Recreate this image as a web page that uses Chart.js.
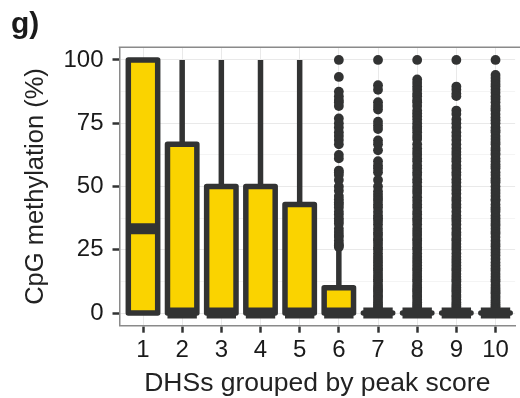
<!DOCTYPE html>
<html><head><meta charset="utf-8">
<script src="https://cdn.jsdelivr.net/npm/chart.js@4.4.1/dist/chart.umd.min.js"></script>
<style>
html,body{margin:0;padding:0;background:#fff;}
#wrap{position:relative;width:520px;height:398px;overflow:hidden;}
canvas{position:absolute;left:0;top:0;}
#panelTag{position:absolute;left:11px;top:8px;font:bold 30px "Liberation Sans",Arial,sans-serif;line-height:30px;color:#1a1a1a;}
</style></head><body>
<div id="wrap"><canvas id="c" width="520" height="398"></canvas><div id="panelTag">g)</div></div>
<script>
// ---- data ----
const categories = [1, 2, 3, 4, 5, 6, 7, 8, 9, 10];
const categoryLabels = ['1', '2', '3', '4', '5', '6', '7', '8', '9', '10'];
const q1 = [0, 0, 0, 0, 0, 0, 0, 0, 0, 0];
const medians = [33.3, 0, 0, 0, 0, 0, 0, 0, 0, 0];
const q3 = [100, 66.7, 50, 50, 42.9, 10, 0, 0, 0, 0];
const whiskerHigh = [100, 100, 100, 100, 100, 25, 0, 0, 0, 0];
const outliers6 = [100, 93.3, 87.5, 85.7, 84.2, 83.3, 81.8, 76.9, 75, 73.3, 71.4, 70, 68.4, 66.7, 62.5, 61.1, 56.3, 55.6, 54.5, 52.6, 50, 48.3, 46.2, 45, 43.8, 42.9, 41.7, 40, 38.9, 37.5, 36.4, 35.3, 33.3, 32, 30.8, 30, 28.6, 27.3, 26.7, 26.1];
const outliers7 = [100, 90, 88.2, 83.3, 81.8, 80.4, 75.6, 74.1, 72.7, 68.2, 66.7, 64.3, 60, 58.3, 57.1, 55.6, 52.6, 50, 48, 46.7, 45.5, 44.4, 42.9, 41.7, 40, 38.5, 37.5, 36.4, 35, 33.3, 31.8, 30.8, 29.4, 28.6, 27.3, 25.9, 25, 23.5, 22.2, 21.1, 20, 18.8, 17.6, 16.7, 15.4, 14.3, 13.3, 12.5, 11.1, 10, 9.1, 8.3, 7.1, 6.3, 5.3, 4.2, 3.3, 2.5, 1.6, 1];
const outliers8 = [100, 92.3, 90.9, 89.5, 88.2, 86.7, 85.7, 84.2, 83.3, 81.8, 80, 78.9, 77.8, 76.5, 75, 73.7, 72.7, 71.4, 70, 68.8, 66.7, 65, 63.6, 62.5, 61.1, 60, 58.3, 57.1, 55.6, 54.5, 52.9, 51.7, 50, 48.6, 47.4, 45.8, 44.4, 42.9, 41.7, 40, 38.9, 37.5, 36.4, 35, 33.3, 32, 30.8, 29.4, 28.6, 27.3, 25.9, 25, 23.5, 22.2, 21.1, 20, 18.8, 17.6, 16.7, 15.4, 14.3, 13.3, 12.5, 11.1, 10, 9.1, 8.3, 7.1, 6.3, 5.3, 4.2, 3.3, 2.5, 1.6, 1];
const outliers9 = [100, 89.5, 88.2, 86.7, 85.7, 80, 78.6, 76.5, 75, 73.3, 71.4, 70, 68.4, 66.7, 65, 63.6, 62.5, 61.1, 60, 58.3, 57.1, 55.6, 54.5, 52.9, 51.6, 50, 48.6, 47.1, 45.5, 44.4, 42.9, 41.7, 40, 38.5, 37.5, 36.4, 35, 33.3, 31.8, 30.8, 29.4, 28.6, 27.3, 26.1, 25, 23.5, 22.2, 21.1, 20, 18.8, 17.6, 16.7, 15.4, 14.3, 13.3, 12.5, 11.1, 10, 9.1, 8.3, 7.1, 6.3, 5.3, 4.2, 3.3, 2.5, 1.6, 1];
const outliers10 = [100, 94.1, 92.9, 91.7, 90.5, 89.5, 88.2, 87, 85.7, 84.6, 83.3, 81.8, 80.8, 80, 78.6, 77.3, 76.2, 75, 73.3, 72.2, 71.4, 70, 68.8, 67.6, 66.7, 65.2, 64.3, 63.2, 62.5, 61.1, 60, 58.8, 57.9, 57.1, 55.6, 54.5, 53.3, 52.4, 51.6, 50, 48.6, 47.4, 46.2, 45, 44.4, 42.9, 41.7, 40.9, 40, 38.5, 37.5, 36.4, 35.3, 34.5, 33.3, 32.1, 31.3, 30, 28.6, 27.3, 26.3, 25, 23.8, 22.7, 21.4, 20, 18.8, 17.6, 16.7, 15.4, 14.3, 13.3, 12.5, 11.1, 10, 9.1, 8.3, 7.7, 6.7, 5.9, 5, 4.2, 3.4, 2.7, 2, 1.4, 1];
const outlierGroups = [[], [], [], [], [], outliers6, outliers7, outliers8, outliers9, outliers10];
const yTickValues = [0, 25, 50, 75, 100];
const yMinorTickValues = [12.5, 37.5, 62.5, 87.5];
const xTitle = 'DHSs grouped by peak score';
const yTitle = 'CpG methylation (%)';

// ---- styling ----
const FILL = '#FAD300';
const DARK = '#323333';
const HALF = 0.375; // half box width in category units (ggplot width 0.75)
const FONT = '"Liberation Sans", Arial, Helvetica, sans-serif';

// ---- build library datasets from the arrays ----
const boxData = categories.map((c, i) => ({x: c, y: [q1[i], q3[i]]}));
const outlineData = [];
const medianData = [];
const whiskerData = [];
categories.forEach((c, i) => {
  outlineData.push({x: c - HALF, y: q1[i]}, {x: c + HALF, y: q1[i]}, {x: c + HALF, y: q3[i]},
                   {x: c - HALF, y: q3[i]}, {x: c - HALF, y: q1[i]}, {x: c + 0.5, y: null});
  medianData.push({x: c - HALF, y: medians[i]}, {x: c + HALF, y: medians[i]}, {x: c + 0.5, y: null});
  if (whiskerHigh[i] > q3[i]) {
    whiskerData.push({x: c, y: q3[i]}, {x: c, y: whiskerHigh[i]}, {x: c + 0.5, y: null});
  }
});
const outlierData = [];
outlierGroups.forEach((vals, i) => vals.forEach(v => outlierData.push({x: categories[i], y: v})));

const allYTicks = yTickValues.concat(yMinorTickValues).sort((a, b) => a - b);
const isMajor = v => yTickValues.indexOf(v) >= 0;

const topBorder = {
  id: 'topBorder',
  afterDatasetsDraw(chart) {
    const {ctx, chartArea: a} = chart;
    ctx.save();
    ctx.strokeStyle = '#8a8a8a';
    ctx.lineWidth = 1.5;
    ctx.beginPath();
    ctx.moveTo(a.left - 0.75, a.top);
    ctx.lineTo(a.right + 10, a.top);
    ctx.stroke();
    ctx.restore();
  }
};

new Chart(document.getElementById('c'), {
  type: 'scatter',
  data: {
    datasets: [
      {type: 'line', data: medianData, borderColor: DARK, borderWidth: 11, borderCapStyle: 'butt',
       pointRadius: 0, spanGaps: false, fill: false, order: 1},
      {type: 'line', data: outlineData, borderColor: DARK, borderWidth: 5.5, borderJoinStyle: 'round',
       borderCapStyle: 'round', pointRadius: 0, spanGaps: false, fill: false, order: 2},
      {type: 'bar', data: boxData, backgroundColor: FILL, borderWidth: 0,
       categoryPercentage: 1, barPercentage: 0.75, order: 3},
      {type: 'line', data: whiskerData, borderColor: DARK, borderWidth: 5.5, borderCapStyle: 'butt',
       pointRadius: 0, spanGaps: false, fill: false, order: 4},
      {type: 'scatter', data: outlierData, pointRadius: 4.9, pointBackgroundColor: DARK,
       pointBorderWidth: 0, pointBorderColor: DARK, order: 5}
    ]
  },
  options: {
    responsive: false,
    animation: false,
    devicePixelRatio: 1,
    layout: {padding: {top: 47.3, left: 0, right: 0, bottom: 0}},
    plugins: {legend: {display: false}, tooltip: {enabled: false}, title: {display: false}},
    scales: {
      x: {
        type: 'linear', min: 0.4, max: 10.5, offset: false,
        afterBuildTicks: s => { s.ticks = categories.map(v => ({value: v})); },
        afterFit: s => { s.height = 72.3; },
        ticks: {
          autoSkip: false, maxRotation: 0, padding: 3,
          color: '#1a1a1a', font: {family: FONT, size: 24},
          callback: v => categoryLabels[categories.indexOf(v)]
        },
        grid: {color: '#e9e9e9', lineWidth: 1, tickLength: 7, tickColor: DARK, tickWidth: 2.5, offset: false},
        border: {display: true, color: '#8a8a8a', width: 1.5},
        title: {display: true, text: xTitle, color: '#222',
                font: {family: FONT, size: 26.5, lineHeight: 1}, padding: {top: 0, bottom: 1}}
      },
      y: {
        type: 'linear', min: -5, max: 105,
        afterBuildTicks: s => { s.ticks = allYTicks.map(v => ({value: v})); },
        afterFit: s => { s.width = 119.5; },
        ticks: {
          padding: 9, color: '#1a1a1a', font: {family: FONT, size: 24},
          callback: v => isMajor(v) ? String(v) : ''
        },
        grid: {
          color: c => isMajor(c.tick.value) ? '#e9e9e9' : '#f4f4f4',
          lineWidth: 1, tickLength: 7,
          tickColor: c => isMajor(c.tick.value) ? DARK : 'rgba(0,0,0,0)', tickWidth: 2.5
        },
        border: {display: true, color: '#8a8a8a', width: 1.5},
        title: {display: true, text: yTitle, color: '#222',
                font: {family: FONT, size: 25.5, lineHeight: 1}, padding: {top: 23.5, bottom: 0}}
      }
    }
  },
  plugins: [topBorder]
});
</script>
</body></html>
